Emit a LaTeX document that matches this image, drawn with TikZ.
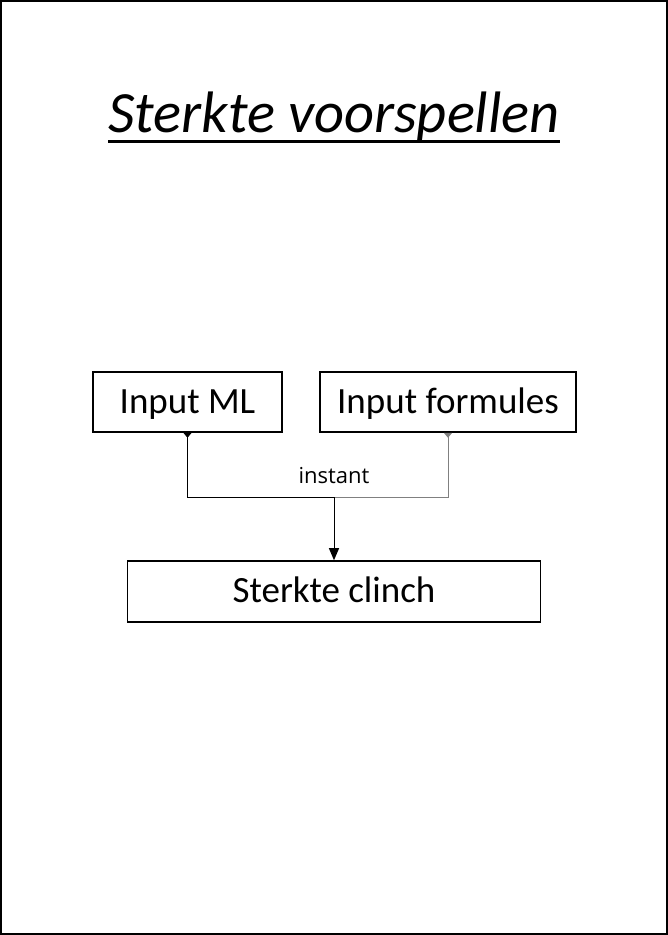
\documentclass[tikz,border=0pt]{standalone}
\usepackage{fontspec}
\setmainfont{Carlito}
\newfontfamily\labelfont{Open Sans}
\usetikzlibrary{arrows.meta}
\tikzset{
  boxnode/.style={draw=black, line width=1.6pt, minimum height=60pt, inner sep=0pt, text height=22pt, text depth=0pt, font=\fontsize{37}{40}\selectfont},
  conn/.style={line width=1pt},
}
\begin{document}
\begin{tikzpicture}[x=1pt,y=-1pt]
\useasboundingbox (0,0) rectangle (668,935);
\draw[line width=1.6pt] (1,1) rectangle (667,934);
\node[inner sep=0pt, font=\fontsize{58.5}{60}\selectfont\itshape] (title) at (334,117) {Sterkte voorspellen};
\draw[line width=3pt] ([yshift=-9pt]title.base west) -- ([yshift=-9pt]title.base east);
\node[boxnode, minimum width=189pt] (ml) at (187.5,402) {Input ML};
\node[boxnode, minimum width=256pt] (form) at (448,402) {Input formules};
\node[boxnode, minimum width=413pt, minimum height=61pt] (clinch) at (334,591.5) {Sterkte clinch};
\coordinate (join) at (334,497);
\draw[conn, {Triangle[reversed,width=8pt,length=5pt]}-] (ml.south) |- (join);
\draw[conn, draw=gray, {Triangle[reversed,width=8pt,length=5pt]}-] (form.south) |- (join);
\draw[conn, -{Triangle[width=10pt,length=12pt]}] (join) -- (clinch.north);
\node[font=\labelfont\fontsize{22}{24}\selectfont] (lbl) at (334,476) {instant};
\end{tikzpicture}
\end{document}
